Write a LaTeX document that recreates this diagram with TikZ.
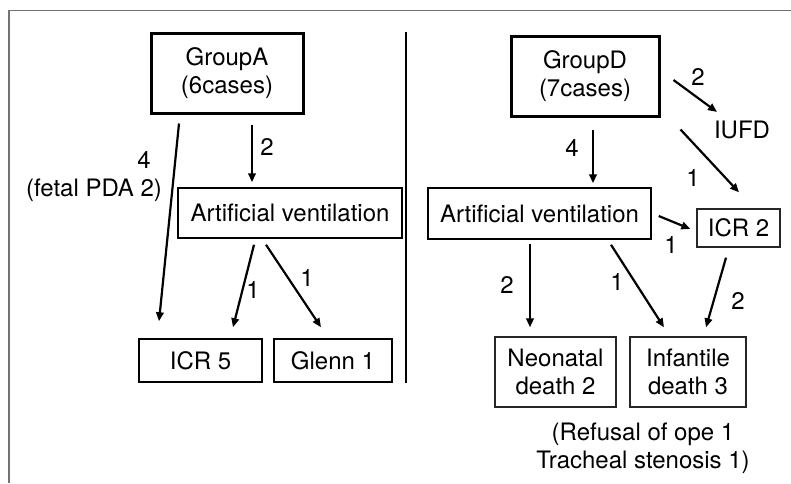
\documentclass[tikz,border=0pt]{standalone}
\usepackage{fontspec}
\setmainfont{TeX Gyre Heros}
\usetikzlibrary{arrows.meta}
\begin{document}
\begin{tikzpicture}[x=1pt,y=-1pt,
  every node/.style={font=\fontsize{24}{28}\selectfont, align=center, inner sep=0pt},
  groupbox/.style={draw=black, line width=3pt},
  thinbox/.style={draw=black, line width=1.5pt},
  greybox/.style={draw=black!85, line width=1.3pt},
  arr/.style={line width=2.2pt, -{Triangle[length=9pt,width=7.5pt]}},
  lbl/.style={anchor=center}
]
\useasboundingbox (0,0) rectangle (791,483);
\fill[white] (0,0) rectangle (791,483);
% frame
\draw[gray!90!black, line width=1.6pt] (9,483) -- (9,10.5) -- (791,10.5);
% divider
\draw[black, line width=1.4pt] (406,32) -- (406,383);

% left group
\node[groupbox, minimum width=152pt, minimum height=80pt] (ga) at (227,73) {GroupA\\(6cases)};
\node[thinbox, minimum width=224pt, minimum height=50pt] (av1) at (290,213) {Artificial ventilation};
\node[thinbox, minimum width=123pt, minimum height=43pt] (icr5) at (200.5,360.5) {ICR 5};
\node[thinbox, minimum width=118pt, minimum height=43pt] (glenn) at (333,360.5) {Glenn 1};

\draw[arr] ([shift={(25,10)}]ga.south) -- ([shift={(-38,-5)}]av1.north);
\draw[arr] ([shift={(-48,9)}]ga.south) -- ([shift={(-41.5,-17)}]icr5.north);
\draw[arr] ([shift={(-36,6)}]av1.south) -- ([shift={(32.5,-11)}]icr5.north);
\draw[arr] ([shift={(-24,6)}]av1.south) -- ([shift={(-12,-11)}]glenn.north);

\node[lbl] (l1) at (267,147) {2};
\node[lbl] (l2) at (144,160) {4};
\node[lbl] (l3) at (94,190) {(fetal PDA 2)};
\node[lbl] (l4) at (253,290) {1};
\node[lbl] (l5) at (307,278) {1};

% right group
\node[groupbox, minimum width=148pt, minimum height=80pt] (gd) at (585,76) {GroupD\\(7cases)};
\node[thinbox, minimum width=223pt, minimum height=51pt] (av2) at (539.5,213.5) {Artificial ventilation};
\node[greybox, minimum width=83pt, minimum height=38pt] (icr2) at (738.5,228) {ICR 2};
\node (iufd) at (742,130) {IUFD};
\node[greybox, minimum width=121pt, minimum height=70pt] (neo) at (555.5,372) {Neonatal\\death 2};
\node[greybox, minimum width=116pt, minimum height=70pt] (inf) at (688,372) {Infantile\\death 3};
\node (note) at (643,448) {(Refusal of ope 1\\Tracheal stenosis 1)};

\draw[arr] ([shift={(8,12)}]gd.south) -- ([shift={(53.5,-4)}]av2.north);
\draw[arr] ([shift={(13,4)}]gd.east) -- ([shift={(-25,-18)}]iufd.center);
\draw[arr] ([shift={(20,12)}]gd.south east) -- ([shift={(0.5,-16)}]icr2.north);
\draw[arr] ([shift={(7,2.5)}]av2.east) -- ([shift={(-6,1)}]icr2.west);
\draw[arr] ([shift={(-9.5,4)}]av2.south) -- ([shift={(-25.5,-9)}]neo.north);
\draw[arr] ([shift={(71.5,5)}]av2.south) -- ([shift={(-24,-9)}]inf.north);
\draw[arr] ([shift={(-12.5,10)}]icr2.south) -- ([shift={(18,-9)}]inf.north);

\node[lbl] (r1) at (572,148) {4};
\node[lbl] (r2) at (698,77) {2};
\node[lbl] (r3) at (693,178) {1};
\node[lbl] (r4) at (671,245) {1};
\node[lbl] (r5) at (507,285) {2};
\node[lbl] (r6) at (617,282) {1};
\node[lbl] (r7) at (738,301) {2};
\end{tikzpicture}
\end{document}
